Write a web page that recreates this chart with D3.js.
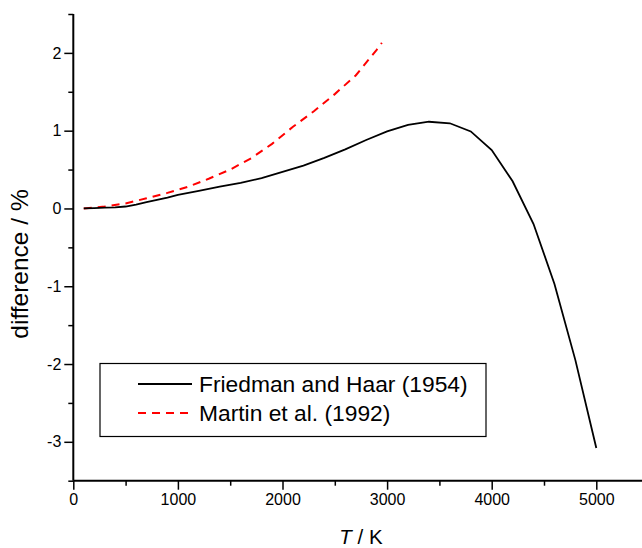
<!DOCTYPE html>
<html><head><meta charset="utf-8">
<script src="https://cdn.jsdelivr.net/npm/d3@7"></script>
<style>body{margin:0;background:#fff}svg{display:block;font-family:"Liberation Sans",Arial,sans-serif}</style>
</head><body><svg id="c" width="642" height="548"></svg>
<script>
const friedmanT = [100,200,300,400,500,600,700,800,900,1000,1200,1400,1600,1800,2000,2200,2400,2600,2800,3000,3200,3400,3600,3800,4000,4200,4400,4600,4800,5000];
const friedmanV = [0,0.005,0.01,0.015,0.025,0.05,0.08,0.11,0.14,0.175,0.225,0.28,0.33,0.39,0.47,0.55,0.65,0.76,0.88,0.99,1.075,1.115,1.095,0.99,0.75,0.35,-0.2,-0.97,-1.95,-3.08];
const martinT = [100,300,500,700,900,1100,1300,1500,1700,1900,2100,2300,2500,2700,2900,2950];
const martinV = [0,0.025,0.065,0.13,0.2,0.28,0.385,0.5,0.645,0.83,1.05,1.25,1.47,1.71,2.04,2.13];
const xMajor = [0,1000,2000,3000,4000,5000];
const xMinor = [500,1500,2500,3500,4500];
const yMajor = [-3,-2,-1,0,1,2];
const yMinor = [-3.5,-2.5,-1.5,-0.5,0.5,1.5,2.5];
const seriesNames = ["Friedman and Haar (1954)","Martin et al. (1992)"];

const svg = d3.select("#c");
const x = d3.scaleLinear().domain([0,5500]).range([73.3,648.6]);
const y = d3.scaleLinear().domain([-3.5,2.5]).range([480.7,14]);
const fmt = d => String(d);

const gx = svg.append("g").attr("transform",`translate(0,${y(-3.5)})`);
gx.call(d3.axisBottom(x).tickValues(xMinor).tickSize(5).tickFormat(""));
gx.append("g").call(d3.axisBottom(x).tickValues(xMajor).tickSize(9).tickPadding(4).tickFormat(fmt));
const gy = svg.append("g").attr("transform",`translate(${x(0)},0)`);
gy.call(d3.axisLeft(y).tickValues(yMinor).tickSize(5).tickFormat(""));
gy.append("g").call(d3.axisLeft(y).tickValues(yMajor).tickSize(9).tickPadding(3).tickFormat(fmt));
svg.selectAll(".domain").remove();
svg.selectAll(".tick line").attr("stroke","#000").attr("stroke-width",1.5);
svg.selectAll(".tick text").attr("font-size",16).attr("fill","#000").attr("font-family","Liberation Sans, Arial, sans-serif");
svg.append("line").attr("x1",x(0)).attr("x2",642).attr("y1",y(-3.5)).attr("y2",y(-3.5)).attr("stroke","#000").attr("stroke-width",2);
svg.append("line").attr("x1",x(0)).attr("x2",x(0)).attr("y1",y(2.5)).attr("y2",y(-3.5)).attr("stroke","#000").attr("stroke-width",2);

const line = d3.line().x(d=>x(d[0])).y(d=>y(d[1]));
svg.append("path").datum(martinT.map((t,i)=>[t,martinV[i]])).attr("d",line)
  .attr("fill","none").attr("stroke","#ff0000").attr("stroke-width",2).attr("stroke-dasharray","8,6");
svg.append("path").datum(friedmanT.map((t,i)=>[t,friedmanV[i]])).attr("d",line)
  .attr("fill","none").attr("stroke","#000").attr("stroke-width",1.8);

svg.append("text").attr("transform","translate(28,264) rotate(-90)").attr("text-anchor","middle")
  .attr("font-size",24.5).text("difference / %");
const xl = svg.append("text").attr("x",361).attr("y",544).attr("text-anchor","middle").attr("font-size",20.5);
xl.append("tspan").attr("font-style","italic").text("T");
xl.append("tspan").text(" / K");

svg.append("rect").attr("x",100).attr("y",363.5).attr("width",386).attr("height",73).attr("fill","#fff").attr("stroke","#000").attr("stroke-width",1.2);
const lg = svg.append("g");
[0,1].forEach(i=>{
  const cy = 384 + i*29;
  lg.append("line").attr("x1",138).attr("x2",192).attr("y1",cy).attr("y2",cy)
    .attr("stroke", i===0?"#000":"#ff0000").attr("stroke-width",2).attr("stroke-dasharray", i===0?null:"8,6");
  lg.append("text").attr("x",199).attr("y",cy+8).attr("font-size",22.8).text(seriesNames[i]);
});
</script></body></html>
